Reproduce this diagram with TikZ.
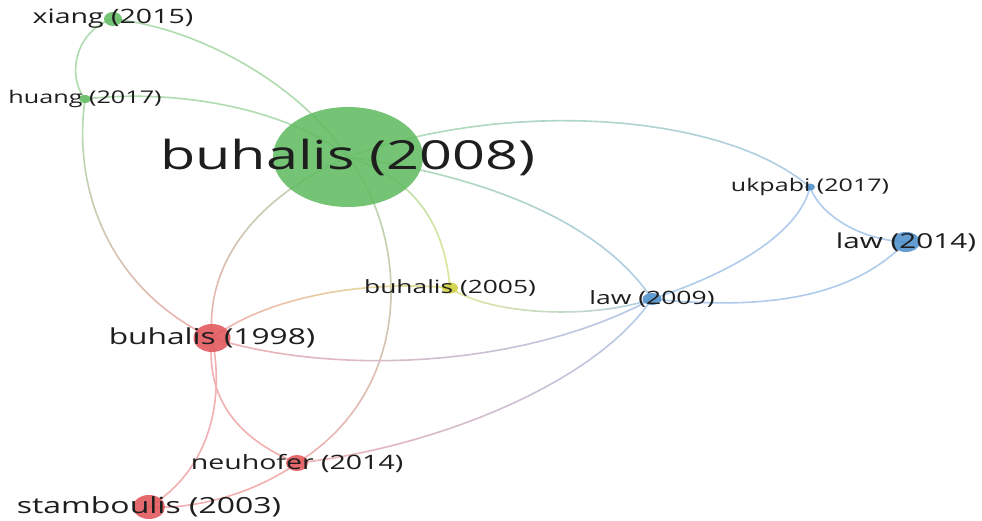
\documentclass[tikz,border=0pt]{standalone}
\usepackage{fontspec}
\setmainfont{Open Sans}
\usepackage{graphicx}
\usetikzlibrary{shapes.geometric}

% cluster colours
\definecolor{cR}{RGB}{226,86,90}
\definecolor{cG}{RGB}{98,188,98}
\definecolor{cB}{RGB}{78,144,204}
\definecolor{cY}{RGB}{208,208,62}
% pale link colours
\definecolor{eR}{RGB}{242,176,178}
\definecolor{eG}{RGB}{176,220,176}
\definecolor{eB}{RGB}{176,204,236}
\definecolor{eY}{RGB}{226,232,150}
\definecolor{txt}{RGB}{30,30,30}

\tikzset{
  dot/.style={ellipse, inner sep=0pt, draw=none},
  lab/.style={inner sep=0pt, text=txt, anchor=center},
  linkseg/.style={line width=1.6pt, line cap=round}
}

% stretched label text
\newcommand{\lbl}[2]{\scalebox{1.44}[1]{\fontsize{#1pt}{#1pt}\selectfont #2}}

% curved link with a colour gradient: from, control 1, control 2, to, colour at start, colour at end
\newcommand{\vlink}[6]{%
  \path (#1.center) .. controls #2 and #3 .. (#4.center)
    foreach \k in {0,...,24}{ coordinate[pos=\k/24] (q\k) };
  \foreach \k [evaluate=\k as \kn using int(\k+1), evaluate=\k as \w using int(98-4*\k)] in {0,...,23}
    \draw[linkseg, draw=#5!\w!#6] (q\k) -- (q\kn);
}

\begin{document}
\begin{tikzpicture}[x=1pt, y=-1pt]
  \fill[white] (0,0) rectangle (982,521);
  \useasboundingbox (0,0) rectangle (982,521);

  % node positions
  \coordinate (px15) at (113,19);
  \coordinate (ph17) at (85,99);
  \coordinate (pb08) at (348,157);
  \coordinate (puk)  at (810,187);
  \coordinate (pl14) at (906,242);
  \coordinate (pl09) at (652,299);
  \coordinate (pb05) at (450,288);
  \coordinate (pb98) at (212,338);
  \coordinate (pn14) at (297,463);
  \coordinate (ps03) at (149,507);

  % circles (named first so the links can use them)
  \path
    (px15) node[dot, minimum width=18pt, minimum height=14pt] (x15) {}
    (ph17) node[dot, minimum width=12pt, minimum height=8pt] (h17) {}
    (pb08) node[dot, minimum width=150pt, minimum height=100pt] (b08) {}
    (puk)  node[dot, minimum width=10pt, minimum height=7pt] (uk) {}
    (pl14) node[dot, minimum width=28pt, minimum height=20pt] (l14) {}
    (pl09) node[dot, minimum width=19pt, minimum height=12pt] (l09) {}
    (pb05) node[dot, minimum width=16pt, minimum height=11pt] (b05) {}
    (pb98) node[dot, minimum width=37pt, minimum height=28pt] (b98) {}
    (pn14) node[dot, minimum width=22pt, minimum height=16pt] (n14) {}
    (ps03) node[dot, minimum width=32pt, minimum height=24pt] (s03) {};

  % links
  \vlink{x15}{(200,28)}{(300,85)}{b08}{eG}{eG}
  \vlink{h17}{(180,88)}{(290,110)}{b08}{eG}{eG}
  \vlink{x15}{(76,30)}{(66,75)}{h17}{eG}{eG}
  \vlink{h17}{(72,190)}{(110,290)}{b98}{eG}{eR}
  \vlink{b08}{(500,100)}{(720,110)}{uk}{eG}{eB}
  \vlink{b08}{(480,175)}{(600,220)}{l09}{eG}{eB}
  \vlink{b08}{(420,180)}{(445,230)}{b05}{eG}{eY}
  \vlink{b08}{(410,240)}{(415,390)}{n14}{eG}{eR}
  \vlink{b08}{(260,195)}{(205,260)}{b98}{eG}{eR}
  \vlink{b98}{(270,295)}{(370,280)}{b05}{eR}{eY}
  \vlink{b98}{(330,375)}{(520,370)}{l09}{eR}{eB}
  \vlink{b05}{(490,315)}{(590,320)}{l09}{eY}{eB}
  \vlink{l09}{(590,390)}{(420,450)}{n14}{eB}{eR}
  \vlink{l09}{(740,270)}{(800,230)}{uk}{eB}{eB}
  \vlink{l09}{(760,310)}{(850,300)}{l14}{eB}{eB}
  \vlink{uk}{(820,215)}{(860,240)}{l14}{eB}{eB}
  \vlink{b98}{(205,400)}{(240,440)}{n14}{eR}{eR}
  \vlink{b98}{(225,400)}{(210,470)}{s03}{eR}{eR}
  \vlink{s03}{(200,510)}{(260,490)}{n14}{eR}{eR}

  % filled circles on top of the links
  \fill[cG, fill opacity=0.88] (x15.center) ellipse (9pt and 7pt);
  \fill[cG, fill opacity=0.88] (h17.center) ellipse (6pt and 4pt);
  \fill[cG, fill opacity=0.88] (b08.center) ellipse (75pt and 50pt);
  \fill[cB, fill opacity=0.88] (uk.center) ellipse (5pt and 3.5pt);
  \fill[cB, fill opacity=0.88] (l14.center) ellipse (14pt and 10pt);
  \fill[cB, fill opacity=0.88] (l09.center) ellipse (9.5pt and 6pt);
  \fill[cY, fill opacity=0.88] (b05.center) ellipse (8pt and 5.5pt);
  \fill[cR, fill opacity=0.88] (b98.center) ellipse (18.5pt and 14pt);
  \fill[cR, fill opacity=0.88] (n14.center) ellipse (11pt and 8pt);
  \fill[cR, fill opacity=0.88] (s03.center) ellipse (16pt and 12pt);

  % labels
  \node[lab] (tx15) at (x15.center) {\lbl{19.8}{xiang (2015)}};
  \node[lab] (th17) at (h17.center) {\lbl{17.5}{huang (2017)}};
  \node[lab] (tb08) at (b08.center) {\lbl{40}{buhalis (2008)}};
  \node[lab] (tuk)  at (uk.center)  {\lbl{17.4}{ukpabi (2017)}};
  \node[lab] (tl14) at (l14.center) {\lbl{20.6}{law (2014)}};
  \node[lab] (tl09) at (l09.center) {\lbl{18.4}{law (2009)}};
  \node[lab] (tb05) at (b05.center) {\lbl{18.3}{buhalis (2005)}};
  \node[lab] (tb98) at (b98.center) {\lbl{22}{buhalis (1998)}};
  \node[lab] (tn14) at (n14.center) {\lbl{19.8}{neuhofer (2014)}};
  \node[lab] (ts03) at (s03.center) {\lbl{22.2}{stamboulis (2003)}};
\end{tikzpicture}
\end{document}
